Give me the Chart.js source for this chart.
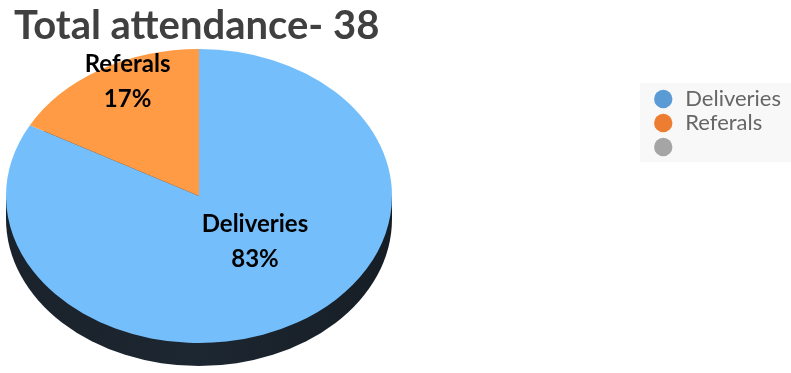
<!DOCTYPE html>
<html>
<head>
<meta charset="utf-8">
<script src="https://cdn.jsdelivr.net/npm/chart.js@4.4.1/dist/chart.umd.min.js"></script>
<style>
  html, body { margin: 0; padding: 0; background: #ffffff; }
  #wrap { width: 791px; height: 373px; position: relative; }
</style>
</head>
<body>
<div id="wrap"><canvas id="c"></canvas></div>
<script>
// ---- data ----
const titleText = 'Total attendance- 38';
const categories = ['Deliveries', 'Referals', ''];
const values = [83, 17, 0];
const percentLabels = ['83%', '17%', ''];

// ---- styles ----
const sliceColors = ['#74BFFB', '#FF9B45', '#A5A5A5'];
const legendColors = ['#5B9BD5', '#ED7D31', '#A5A5A5'];
const PIE = { cx: 199, cy: 196, rx: 193, ry: 147, depth: 23 };
const labelOffsets = [[0.29, 0.31], [-0.37, -0.78]]; // in units of rx, ry
const FONT = 'Lato, "Open Sans", sans-serif';

const pie3d = {
  id: 'pie3d',
  beforeDraw(chart) {
    const lg = chart.legend;
    if (!lg || !lg.legendHitBoxes || !lg.legendHitBoxes.length) return;
    const hb = lg.legendHitBoxes;
    const top = hb[0].top - 5;
    const bottom = hb[hb.length - 1].top + hb[hb.length - 1].height + 4;
    const ctx = chart.ctx;
    ctx.save();
    ctx.fillStyle = '#F8F8F8';
    ctx.fillRect(640, top, chart.width - 640, bottom - top);
    ctx.restore();
  },
  beforeDatasetsDraw(chart) {
    const a = chart.getDatasetMeta(0).data[0];
    const p = a.getProps(['x', 'y', 'outerRadius'], true);
    const ctx = chart.ctx;
    // side wall
    ctx.save();
    const g = ctx.createLinearGradient(PIE.cx - PIE.rx, 0, PIE.cx + PIE.rx, 0);
    g.addColorStop(0, '#1a222b');
    g.addColorStop(0.5, '#1d2731');
    g.addColorStop(1, '#161d25');
    ctx.fillStyle = g;
    ctx.beginPath();
    ctx.ellipse(PIE.cx, PIE.cy + PIE.depth, PIE.rx, PIE.ry, 0, 0, Math.PI * 2);
    ctx.fill();
    ctx.fillRect(PIE.cx - PIE.rx, PIE.cy, PIE.rx * 2, PIE.depth);
    ctx.restore();
    // squash the library's pie into the ellipse
    ctx.save();
    ctx.translate(PIE.cx, PIE.cy);
    ctx.scale(PIE.rx / p.outerRadius, PIE.ry / p.outerRadius);
    ctx.translate(-p.x, -p.y);
  },
  afterDatasetsDraw(chart) {
    const ctx = chart.ctx;
    ctx.restore();
    ctx.save();
    ctx.fillStyle = '#000000';
    ctx.textAlign = 'center';
    ctx.textBaseline = 'middle';
    ctx.font = 'bold 24px ' + FONT;
    labelOffsets.forEach((o, i) => {
      const x = PIE.cx + o[0] * PIE.rx;
      const y = PIE.cy + o[1] * PIE.ry;
      ctx.fillText(categories[i], x, y - 17);
      ctx.fillText(percentLabels[i], x, y + 18);
    });
    ctx.restore();
  }
};

new Chart(document.getElementById('c'), {
  type: 'pie',
  data: {
    labels: categories,
    datasets: [{
      data: values,
      backgroundColor: sliceColors,
      borderWidth: 0
    }]
  },
  options: {
    responsive: true,
    maintainAspectRatio: false,
    animation: false,
    layout: { padding: { left: 14, top: 0, right: 0, bottom: 0 } },
    plugins: {
      tooltip: { enabled: false },
      title: {
        display: true,
        text: titleText,
        align: 'start',
        color: '#404040',
        font: { family: FONT, size: 40, weight: 'bold', lineHeight: 1.1 },
        padding: { top: 4, bottom: 30 }
      },
      legend: {
        position: 'right',
        align: 'start',
        title: {
          display: true,
          text: ' ',
          font: { size: 1, lineHeight: 1 },
          padding: { top: 85, bottom: 0 }
        },
        labels: {
          color: '#404040',
          font: { family: FONT, size: 22, lineHeight: 1 },
          usePointStyle: true,
          pointStyle: 'circle',
          boxHeight: 13,
          padding: 2,
          generateLabels(chart) {
            return categories.map((c, i) => ({
              text: c,
              fillStyle: legendColors[i],
              strokeStyle: legendColors[i],
              lineWidth: 0,
              pointStyle: 'circle',
              hidden: false,
              index: i,
              datasetIndex: 0
            }));
          }
        }
      }
    }
  },
  plugins: [pie3d]
});
</script>
</body>
</html>
